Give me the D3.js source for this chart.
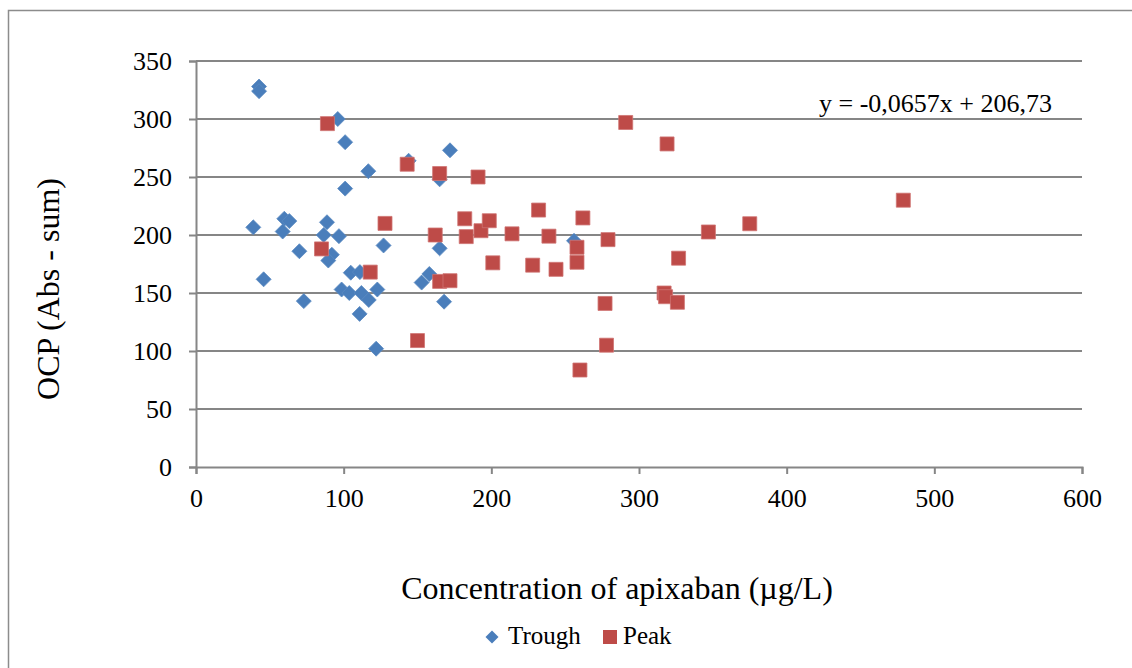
<!DOCTYPE html>
<html>
<head>
<meta charset="utf-8">
<script src="https://cdn.jsdelivr.net/npm/d3@7"></script>
<style>
  body { margin: 0; background: #fff; }
  svg text { font-family: "Liberation Serif", "Times New Roman", serif; fill: #000; }
</style>
</head>
<body>
<div id="chart"></div>
<script>
// Trough samples (x = apixaban µg/L, y = OCP)
var troughX = [42.7, 42.7, 96, 101, 116.7, 144, 172, 165, 101, 38.8, 59.8, 63.2, 58.7, 88.7, 86.5, 96.8, 70, 92, 89.6, 127, 165, 45.8, 73, 104.8, 111, 98.6, 103.8, 112, 117, 122.8, 110.8, 122, 152.8, 158, 168, 256];
var troughY = [328, 324, 300, 280, 255, 264, 273, 248, 240, 206.6, 214, 212, 203, 211, 200, 199, 186, 183, 178, 191, 188.5, 161.8, 143, 167.5, 168, 153, 150, 150, 144, 153, 132, 102, 159, 166.4, 142.5, 195];

// Peak samples
var peakX = [89, 143, 165, 191, 128, 162, 182, 183, 193, 198.6, 85, 201, 118, 150, 165, 172, 291, 319, 232, 262, 214, 239, 258, 279, 228, 243.8, 258, 326.8, 317, 318, 326, 277, 278, 260, 347, 375, 479];
var peakY = [296, 261, 253, 250, 210, 200, 214, 198.6, 203.7, 212.3, 188, 176, 168, 109, 160, 160.6, 297, 278.5, 221.5, 214.7, 201, 199, 189.4, 196, 174, 170.4, 176.5, 180, 150, 146.8, 142, 141, 105, 83.6, 202.6, 209.7, 230];

var xTicks = [0, 100, 200, 300, 400, 500, 600];
var yTicks = [0, 50, 100, 150, 200, 250, 300, 350];
var seriesNames = ["Trough", "Peak"];
var equationText = "y = -0,0657x + 206,73";

var W = 1132, H = 668;
var margin = {top: 61, right: 50, bottom: 201, left: 196};
var width = W - margin.left - margin.right,
    height = H - margin.top - margin.bottom;

var serif = '"Liberation Serif", "Times New Roman", serif';
var blue = "#4a7ebb", red = "#be4b48", gridColor = "#868686";

var svg = d3.select("#chart").append("svg")
    .attr("width", W)
    .attr("height", H);

// outer chart frame (only top and left edges are visible)
svg.append("path")
    .attr("d", "M8.5,668 V10.5 H1132")
    .attr("fill", "none")
    .attr("stroke", "#8c8c8c")
    .attr("stroke-width", 1.5);

var g = svg.append("g")
    .attr("transform", "translate(" + margin.left + "," + margin.top + ")");

var x = d3.scaleLinear().domain([0, 600]).range([0, width]);
var y = d3.scaleLinear().domain([0, 350]).range([height, 0]);

// horizontal gridlines
g.append("g")
    .selectAll("line")
    .data(yTicks.slice(1))
    .join("line")
    .attr("x1", 0)
    .attr("x2", width)
    .attr("y1", function(d) { return y(d); })
    .attr("y2", function(d) { return y(d); })
    .attr("stroke", gridColor)
    .attr("stroke-width", 2);

// axes
var xAxis = d3.axisBottom(x).tickValues(xTicks).tickSize(7).tickSizeOuter(7);
var yAxis = d3.axisLeft(y).tickValues(yTicks).tickSize(7).tickSizeOuter(7).tickPadding(17);

var gx = g.append("g")
    .attr("transform", "translate(0," + height + ")")
    .call(xAxis);
gx.selectAll("text")
    .attr("dy", null)
    .attr("y", 40);

var gy = g.append("g").call(yAxis);

[gx, gy].forEach(function(a) {
    a.attr("font-family", serif).attr("font-size", 26);
    a.selectAll("text")
        .style("font-family", serif)
        .style("font-size", "26px")
        .attr("fill", "#000");
    a.select(".domain").attr("stroke", gridColor).attr("stroke-width", 2);
    a.selectAll(".tick line").attr("stroke", gridColor).attr("stroke-width", 2);
});

// markers
var diamond = "M0,-7.5 L7.5,0 L0,7.5 L-7.5,0 Z";
var square = "M-7,-7 H7 V7 H-7 Z";

g.append("g")
    .selectAll("path")
    .data(troughX.map(function(d, i) { return [d, troughY[i]]; }))
    .join("path")
    .attr("d", diamond)
    .attr("transform", function(d) { return "translate(" + x(d[0]) + "," + y(d[1]) + ")"; })
    .attr("fill", blue)
    .attr("stroke", "#5a8ac2")
    .attr("stroke-width", 0.8);

g.append("g")
    .selectAll("path")
    .data(peakX.map(function(d, i) { return [d, peakY[i]]; }))
    .join("path")
    .attr("d", square)
    .attr("transform", function(d) { return "translate(" + x(d[0]) + "," + y(d[1]) + ")"; })
    .attr("fill", red)
    .attr("stroke", "#cf7472")
    .attr("stroke-width", 0.8);

// trendline equation label
svg.append("text")
    .attr("x", 819)
    .attr("y", 112)
    .style("font-size", "26px")
    .text(equationText);

// axis titles
svg.append("text")
    .attr("transform", "translate(59,289) rotate(-90)")
    .attr("text-anchor", "middle")
    .style("font-size", "32px")
    .text("OCP (Abs - sum)");

svg.append("text")
    .attr("x", 617)
    .attr("y", 599)
    .attr("text-anchor", "middle")
    .style("font-size", "32px")
    .text("Concentration of apixaban (\u00b5g/L)");

// legend
var legend = svg.append("g");
legend.append("path")
    .attr("d", "M0,-6.5 L6.5,0 L0,6.5 L-6.5,0 Z")
    .attr("transform", "translate(492,637)")
    .attr("fill", blue);
legend.append("text")
    .attr("x", 508)
    .attr("y", 644)
    .style("font-size", "25px")
    .text(seriesNames[0]);
legend.append("path")
    .attr("d", "M-7,-7 H7 V7 H-7 Z")
    .attr("transform", "translate(610,637)")
    .attr("fill", red);
legend.append("text")
    .attr("x", 623)
    .attr("y", 644)
    .style("font-size", "25px")
    .text(seriesNames[1]);
</script>
</body>
</html>
